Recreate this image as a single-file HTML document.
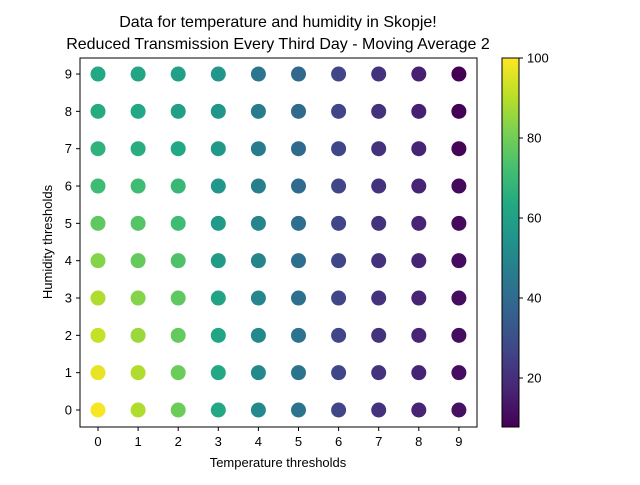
<!DOCTYPE html>
<html><head><meta charset="utf-8"><style>
body{margin:0;background:#fff}
svg text{font-family:"Liberation Sans","DejaVu Sans",sans-serif;fill:#000}
</style></head><body>
<svg id="chart" width="640" height="480" viewBox="0 0 640 480" xmlns="http://www.w3.org/2000/svg">
<defs><linearGradient id="vir" x1="0" y1="1" x2="0" y2="0"></linearGradient></defs>
<text x="278" y="27" font-size="16" text-anchor="middle">Data for temperature and humidity in Skopje!</text>
<text x="278" y="49" font-size="16" text-anchor="middle">Reduced Transmission Every Third Day - Moving Average 2</text>
<g id="plot"></g>
<rect x="80" y="58" width="397" height="369" fill="none" stroke="#000" stroke-width="1"/>
<text x="278" y="467" font-size="13" text-anchor="middle">Temperature thresholds</text>
<text transform="translate(52,242) rotate(-90)" font-size="13" text-anchor="middle">Humidity thresholds</text>
<rect x="502" y="58" width="17" height="369" fill="url(#vir)" stroke="#000" stroke-width="1"/>
<g id="cbticks"></g>
</svg>
<script>
const xCats=[0,1,2,3,4,5,6,7,8,9];
const yCats=[0,1,2,3,4,5,6,7,8,9];
// values[x][y], y from 0 (bottom) to 9 (top)
const col0=[99,97,92,89,83,77,71,67,64,63];
const col1=[89,89,86,83,78,75,71,65,63,62];
const col2=[79,79,78,77,74,71,69,63,60,60];
const col3=[63,63,62,61,58,58,56,57,56,56];
const col4=[51,51,51,50,49,49,47,46,46,44];
const col5=[43,43,43,42,41,41,40,40,40,39];
const col6=[27,27,27,27,27,27,27,27,27,27];
const col7=[21,21,21,21,21,21,21,21,21,21];
const col8=[17,17,17,17,17,17,17,17,16,16];
const col9=[12,11,11,11,11,10,10,9,8,7.75];
const values=[col0,col1,col2,col3,col4,col5,col6,col7,col8,col9];
const cbTicks=[20,40,60,80,100];
const vmin=7.75,vmax=100;
const vir=["#440154","#482475","#414487","#355f8d","#2a788e","#21918c","#22a884","#44bf70","#7ad151","#bddf26","#fde725"];
function hex(h){return [1,3,5].map(i=>parseInt(h.substr(i,2),16));}
function cmap(v){let t=Math.max(0,Math.min(1,(v-vmin)/(vmax-vmin)))*10;let i=Math.min(9,Math.floor(t)),f=t-i;
const a=hex(vir[i]),b=hex(vir[i+1]);return "rgb("+a.map((c,k)=>Math.round(c+(b[k]-c)*f)).join(",")+")";}
const xs=v=>98+v*40.1, ys=v=>410-v*37.33, cy=v=>58+(vmax-v)*4;
const NS="http://www.w3.org/2000/svg";
const plot=document.getElementById("plot");
function mk(tag,attrs,parent){const e=document.createElementNS(NS,tag);for(const k in attrs)e.setAttribute(k,attrs[k]);parent.appendChild(e);return e;}
const grad=document.getElementById("vir");
vir.forEach((c,i)=>mk("stop",{offset:(i*10)+"%","stop-color":c},grad));
xCats.forEach((x,i)=>{
  const t=mk("line",{x1:xs(x),x2:xs(x),y1:427,y2:431,stroke:"#000"},plot);
  
  
  const l=mk("text",{x:xs(x),y:446,"font-size":13,"text-anchor":"middle"},plot);l.textContent=x;
  
  
});
yCats.forEach(y=>{
  const t=mk("line",{x1:76,x2:80,y1:ys(y),y2:ys(y),stroke:"#000"},plot);
  
  
  const l=mk("text",{x:72,y:ys(y)+4.5,"font-size":13,"text-anchor":"end"},plot);l.textContent=y;
  
  
});
xCats.forEach((x,i)=>yCats.forEach((y,j)=>{
  const c=mk("circle",{cx:xs(x),cy:ys(y),r:7.5,fill:cmap(values[i][j])},plot);
  
  
}));
const cb=document.getElementById("cbticks");
cbTicks.forEach(v=>{
  const t=mk("line",{x1:519,x2:523,y1:cy(v),y2:cy(v),stroke:"#000"},cb);
  
  
  const l=mk("text",{x:527,y:cy(v)+4.5,"font-size":13},cb);l.textContent=v;
  
  
});
</script>
</body></html>
